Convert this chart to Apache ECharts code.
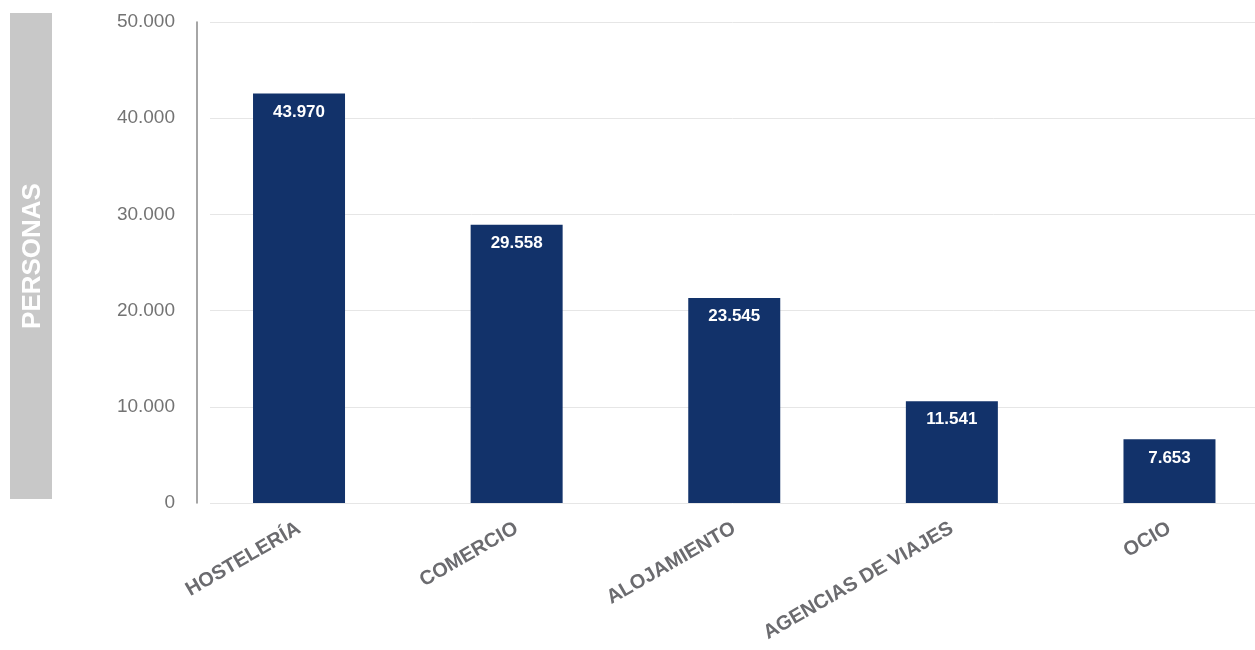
<!DOCTYPE html>
<html>
<head>
<meta charset="UTF-8">
<title>Personas por sector</title>
<script src="https://cdn.jsdelivr.net/npm/echarts@6/dist/echarts.min.js"></script>
<style>
  html, body { margin: 0; padding: 0; background: #fff; }
  #main { width: 1255px; height: 650px; }
</style>
</head>
<body>
<div id="main"></div>
<script>
// categorias del eje x
var categories = ['HOSTELERÍA', 'COMERCIO', 'ALOJAMIENTO', 'AGENCIAS DE VIAJES', 'OCIO'];
// altura de las barras tal como se ven en el grafico
var barValues = [42570, 28920, 21310, 10580, 6620];
// etiquetas que aparecen dentro de cada barra
var labelValues = [43970, 29558, 23545, 11541, 7653];
// marcas del eje y
var yTicks = [0, 10000, 20000, 30000, 40000, 50000];

function fmt(v) {
  return String(v).replace(/\B(?=(\d{3})+(?!\d))/g, '.');
}

// posicion de cada categoria en el eje x (indice)
var catIndex = categories.map(function (c, i) { return i; });
var barData = barValues.map(function (v, i) { return [catIndex[i], v]; });

var myChart = echarts.init(document.getElementById('main'));

myChart.setOption({
  animation: false,
  graphic: [
    {
      type: 'rect',
      shape: { x: 10, y: 13, width: 42, height: 486 },
      style: { fill: '#c8c8c8' }
    },
    {
      type: 'text',
      x: 33, y: 256,
      rotation: Math.PI / 2,
      style: {
        text: 'PERSONAS',
        fill: '#fff',
        font: 'bold 26px "Liberation Sans", Arial, sans-serif',
        align: 'center',
        verticalAlign: 'middle'
      }
    }
  ],
  grid: [
    // rejilla para eje y y lineas horizontales
    { left: 210, right: 0, top: 22, bottom: 147 },
    // rejilla para las barras
    { left: 190, right: 0, top: 22, bottom: 147 }
  ],
  xAxis: [
    { gridIndex: 0, type: 'value', show: false },
    {
      gridIndex: 1,
      type: 'value',
      min: -0.501,
      max: 4.393,
      splitLine: { show: false },
      axisLine: { show: false },
      axisTick: { show: false },
      axisLabel: {
        customValues: catIndex,
        formatter: function (v) { return categories[Math.round(v)] || ''; },
        rotate: 30,
        margin: 24,
        color: '#6b6b6f',
        fontSize: 20,
        fontWeight: 'bold',
        fontFamily: '"Liberation Sans", Arial, sans-serif'
      }
    }
  ],
  yAxis: [
    {
      gridIndex: 0,
      type: 'value',
      min: yTicks[0],
      max: yTicks[yTicks.length - 1],
      interval: 10000,
      offset: 13,
      axisLine: { show: true, onZero: false, lineStyle: { color: '#888', width: 1.5 } },
      axisTick: { show: false },
      splitLine: { lineStyle: { color: '#e6e6e6' } },
      axisLabel: {
        margin: 22,
        color: '#737373',
        fontSize: 19,
        fontFamily: '"Liberation Sans", Arial, sans-serif',
        formatter: function (v) { return fmt(v); }
      }
    },
    {
      gridIndex: 1,
      type: 'value',
      min: yTicks[0],
      max: yTicks[yTicks.length - 1],
      show: false,
      splitLine: { show: false }
    }
  ],
  series: [{
    type: 'bar',
    xAxisIndex: 1,
    yAxisIndex: 1,
    data: barData,
    barWidth: 92,
    itemStyle: { color: '#12326a' },
    label: {
      show: true,
      position: 'insideTop',
      distance: 10,
      color: '#fff',
      fontSize: 17,
      fontWeight: 'bold',
      fontFamily: '"Liberation Sans", Arial, sans-serif',
      formatter: function (p) { return fmt(labelValues[p.dataIndex]); }
    }
  }]
});
</script>
</body>
</html>
